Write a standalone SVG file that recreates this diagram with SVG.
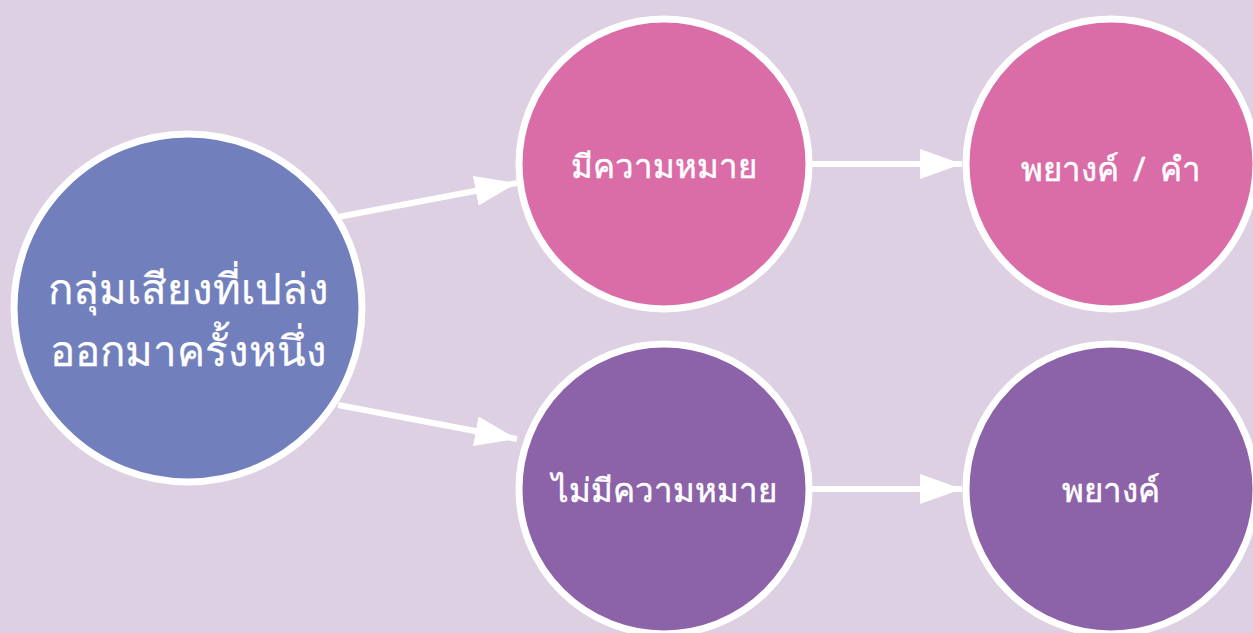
<svg xmlns="http://www.w3.org/2000/svg" width="1253" height="633" viewBox="0 0 1253 633">
<defs>
<style>
.node{stroke:#ffffff;stroke-width:7}
.lbl{font-family:"Noto Sans","DejaVu Sans",sans-serif;fill:#ffffff;text-anchor:middle;stroke:#ffffff;stroke-linejoin:round}
.big{font-size:42px;stroke-width:0.25}
.sm{font-size:33px;stroke-width:0.5}
.edge{stroke:#ffffff;stroke-width:6;fill:none}
</style>
<marker id="ah" markerWidth="7" markerHeight="5" refX="7" refY="2.5" orient="auto" markerUnits="strokeWidth">
<path d="M0,0 L7,2.5 L0,5 Z" fill="#ffffff"/>
</marker>
</defs>
<rect width="1253" height="633" fill="#DDD0E2"/>
<g id="connectors">
<line class="edge" x1="338" y1="217" x2="517" y2="183" marker-end="url(#ah)"/>
<line class="edge" x1="338" y1="405" x2="517" y2="439" marker-end="url(#ah)"/>
<line class="edge" x1="812" y1="164" x2="962" y2="164" marker-end="url(#ah)"/>
<line class="edge" x1="812" y1="489" x2="962" y2="489" marker-end="url(#ah)"/>
</g>
<g id="n-main">
<circle class="node" cx="188" cy="308" r="174" fill="#727FBD"/>
<text class="lbl big" x="188" y="304">กลุ่มเสียงที่เปล่ง</text>
<text class="lbl big" x="188" y="366">ออกมาครั้งหนึ่ง</text>
</g>
<g id="n-meaning">
<circle class="node" cx="664" cy="164" r="145" fill="#DA6CA8"/>
<text class="lbl sm" x="664" y="178">มีความหมาย</text>
</g>
<g id="n-syl-word">
<circle class="node" cx="1111" cy="164" r="145" fill="#DA6CA8"/>
<text class="lbl sm" x="1111" y="181" word-spacing="6">พยางค์ / คำ</text>
</g>
<g id="n-nomeaning">
<circle class="node" cx="664" cy="489" r="145" fill="#8C63A8"/>
<text class="lbl sm" x="664" y="502">ไม่มีความหมาย</text>
</g>
<g id="n-syl">
<circle class="node" cx="1111" cy="489" r="145" fill="#8C63A8"/>
<text class="lbl sm" x="1111" y="502">พยางค์</text>
</g>
</svg>
